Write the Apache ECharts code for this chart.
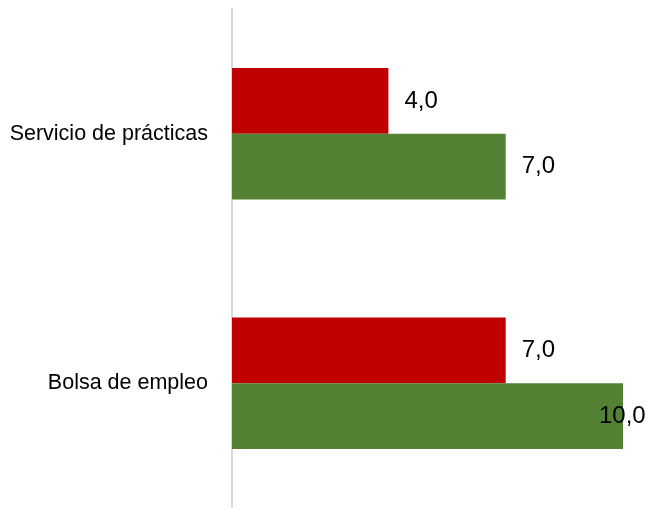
<!DOCTYPE html>
<html>
<head>
<meta charset="utf-8">
<script src="https://cdn.jsdelivr.net/npm/echarts@6/dist/echarts.min.js"></script>
<style>
html,body{margin:0;padding:0;background:#fff;}
#chart{width:648px;height:508px;}
</style>
</head>
<body>
<div id="chart"></div>
<script>
var categories = ['Servicio de prácticas', 'Bolsa de empleo'];
var seriesRed = [4.0, 7.0];
var seriesGreen = [7.0, 10.0];

var fontFam = '"Liberation Sans", Arial, sans-serif';
function fmt(p){ return p.value.toFixed(1).replace('.', ','); }

var chart = echarts.init(document.getElementById('chart'));
chart.setOption({
  backgroundColor: '#ffffff',
  animation: false,
  grid: { left: 232, right: 25, top: 9, bottom: -2, containLabel: false },
  xAxis: {
    type: 'value', min: 0, max: 10, show: false,
    splitLine: { show: false }
  },
  yAxis: {
    type: 'category',
    data: categories,
    inverse: true,
    axisLine: { show: true, lineStyle: { color: '#d9d9d9', width: 2 } },
    axisTick: { show: false },
    axisLabel: { color: '#000000', fontSize: 21.5, fontFamily: fontFam, margin: 24 }
  },
  series: [
    {
      type: 'bar',
      data: seriesRed,
      itemStyle: { color: '#c00000' },
      barGap: '0%',
      barCategoryGap: '47.3%',
      label: { show: true, position: 'right', distance: 16, color: '#000', fontSize: 24, fontFamily: fontFam, formatter: fmt }
    },
    {
      type: 'bar',
      data: seriesGreen.map(function(v, i){
        if (i === 1) return { value: v, label: { offset: [-40, 0] } };
        return v;
      }),
      itemStyle: { color: '#548235' },
      barGap: '0%',
      barCategoryGap: '47.3%',
      label: { show: true, position: 'right', distance: 16, color: '#000', fontSize: 24, fontFamily: fontFam, formatter: fmt }
    }
  ]
});
</script>
</body>
</html>
